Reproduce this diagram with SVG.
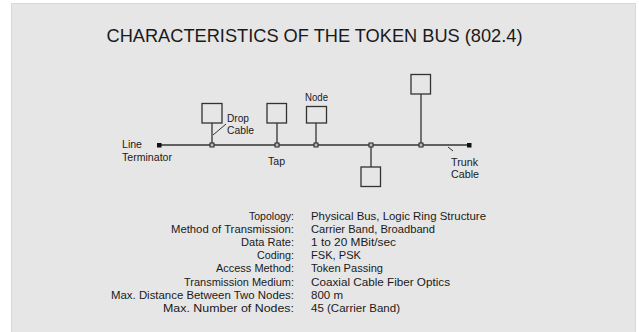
<svg xmlns="http://www.w3.org/2000/svg" width="639" height="332" viewBox="0 0 639 332">
<style>
text{font-family:"Liberation Sans",Arial,sans-serif;fill:#1a1a1a}
.lbl{font-size:11px}
.tb{font-size:10.5px}
.k{text-anchor:end}
.ln{stroke:#333;stroke-width:1.3;fill:none}
.box{stroke:#333;stroke-width:1.3;fill:none}
.tap{stroke:#222;stroke-width:1;fill:#bbb}
.term{fill:#111}
</style>
<rect x="11.5" y="3.5" width="624" height="330" fill="#e6e6e6" stroke="#d8d8d8" stroke-width="1"/>
<text x="106.5" y="41.5" font-size="19" textLength="416" lengthAdjust="spacingAndGlyphs">CHARACTERISTICS OF THE TOKEN BUS (802.4)</text>

<g id="connectors">
<line class="ln" x1="159" y1="145" x2="469" y2="145"/>
<line class="ln" x1="212" y1="123" x2="212" y2="145"/>
<line class="ln" x1="277" y1="123" x2="277" y2="145"/>
<line class="ln" x1="316" y1="123" x2="316" y2="145"/>
<line class="ln" x1="421" y1="94" x2="421" y2="145"/>
<line class="ln" x1="371" y1="145" x2="371" y2="167"/>
<line stroke="#333" stroke-width="1" x1="213" y1="135" x2="226" y2="124"/>
<line stroke="#333" stroke-width="1" x1="448" y1="147" x2="453" y2="151"/>
</g>

<g id="terminator-left"><rect class="term" x="157" y="143" width="4.5" height="4.5"/></g>
<g id="terminator-right"><rect class="term" x="467" y="143" width="4.5" height="4.5"/></g>
<g id="tap1"><rect class="tap" x="210" y="143" width="4" height="4"/></g>
<g id="tap2"><rect class="tap" x="275" y="143" width="4" height="4"/></g>
<g id="tap3"><rect class="tap" x="314" y="143" width="4" height="4"/></g>
<g id="tap4"><rect class="tap" x="369" y="143" width="4" height="4"/></g>
<g id="tap5"><rect class="tap" x="419" y="143" width="4" height="4"/></g>

<g id="node1"><rect class="box" x="202" y="103.5" width="20" height="19.5"/></g>
<g id="node2"><rect class="box" x="267" y="103.5" width="19.5" height="19.5"/></g>
<g id="node3"><rect class="box" x="306.5" y="106.5" width="20" height="16.5"/></g>
<g id="node4"><rect class="box" x="411" y="74.5" width="19.5" height="19.5"/></g>
<g id="node5"><rect class="box" x="361" y="167" width="19.5" height="19.5"/></g>

<g id="labels">
<text class="lbl" x="122" y="148" textLength="20" lengthAdjust="spacingAndGlyphs">Line</text>
<text class="lbl" x="122" y="161" textLength="50" lengthAdjust="spacingAndGlyphs">Terminator</text>
<text class="lbl" x="227" y="122" textLength="22" lengthAdjust="spacingAndGlyphs">Drop</text>
<text class="lbl" x="227" y="134" textLength="27" lengthAdjust="spacingAndGlyphs">Cable</text>
<text class="lbl" x="268" y="165" textLength="17" lengthAdjust="spacingAndGlyphs">Tap</text>
<text class="lbl" x="305" y="101" textLength="23" lengthAdjust="spacingAndGlyphs">Node</text>
<text class="lbl" x="451" y="166" textLength="27" lengthAdjust="spacingAndGlyphs">Trunk</text>
<text class="lbl" x="451" y="178" textLength="28" lengthAdjust="spacingAndGlyphs">Cable</text>
</g>

<g id="table">
<text class="tb k" x="294" y="219.5" textLength="45" lengthAdjust="spacingAndGlyphs">Topology:</text>
<text class="tb k" x="294" y="232.7" textLength="123" lengthAdjust="spacingAndGlyphs">Method of Transmission:</text>
<text class="tb k" x="294" y="245.9" textLength="53" lengthAdjust="spacingAndGlyphs">Data Rate:</text>
<text class="tb k" x="294" y="259.1" textLength="37" lengthAdjust="spacingAndGlyphs">Coding:</text>
<text class="tb k" x="294" y="272.3" textLength="78" lengthAdjust="spacingAndGlyphs">Access Method:</text>
<text class="tb k" x="294" y="285.5" textLength="110" lengthAdjust="spacingAndGlyphs">Transmission Medium:</text>
<text class="tb k" x="294" y="298.7" textLength="183" lengthAdjust="spacingAndGlyphs">Max. Distance Between Two Nodes:</text>
<text class="tb k" x="294" y="311.9" textLength="131" lengthAdjust="spacingAndGlyphs">Max. Number of Nodes:</text>
<text class="tb" x="311" y="219.5" textLength="175" lengthAdjust="spacingAndGlyphs">Physical Bus, Logic Ring Structure</text>
<text class="tb" x="311" y="232.7" textLength="124" lengthAdjust="spacingAndGlyphs">Carrier Band, Broadband</text>
<text class="tb" x="311" y="245.9" textLength="85" lengthAdjust="spacingAndGlyphs">1 to 20 MBit/sec</text>
<text class="tb" x="311" y="259.1" textLength="50" lengthAdjust="spacingAndGlyphs">FSK, PSK</text>
<text class="tb" x="311" y="272.3" textLength="72" lengthAdjust="spacingAndGlyphs">Token Passing</text>
<text class="tb" x="311" y="285.5" textLength="139" lengthAdjust="spacingAndGlyphs">Coaxial Cable Fiber Optics</text>
<text class="tb" x="311" y="298.7" textLength="32" lengthAdjust="spacingAndGlyphs">800 m</text>
<text class="tb" x="311" y="311.9" textLength="89" lengthAdjust="spacingAndGlyphs">45 (Carrier Band)</text>
</g>
</svg>
